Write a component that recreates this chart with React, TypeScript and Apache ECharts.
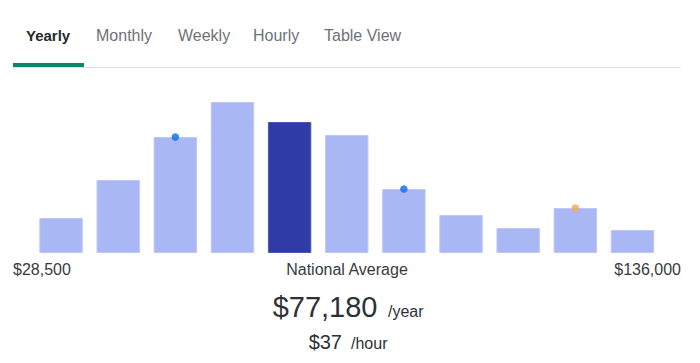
import React, { useEffect, useRef } from "react";
import * as echarts from "echarts";

const bins = ["Bin 1", "Bin 2", "Bin 3", "Bin 4", "Bin 5", "Bin 6", "Bin 7", "Bin 8", "Bin 9", "Bin 10", "Bin 11"];
const counts = [35, 73, 116, 151, 131, 118, 64, 38, 25, 45, 23];
const highlightIndex = 4;
const blueDotBins = [2, 6];
const orangeDotBins = [9];
const tabs = ["Yearly", "Monthly", "Weekly", "Hourly", "Table View"];
const tabX = [26, 96, 178, 253, 324];
const minLabel = "$28,500";
const maxLabel = "$136,000";
const midLabel = "National Average";
const yearlyValue = "$77,180";
const hourlyValue = "$37";

const FONT = '"Liberation Sans", Arial, Helvetica, sans-serif';

export default function App() {
  const ref = useRef<HTMLDivElement>(null);
  useEffect(() => {
    if (!ref.current) return;
    const chart = echarts.init(ref.current, null, { renderer: "svg" });
    const light = "#a9b8f5";
    const dark = "#2f3ca5";
    const barData = counts.map((v, i) => ({
      value: v,
      itemStyle: {
        color: i === highlightIndex ? dark : light,
        borderColor: i === highlightIndex ? "#4f59b5" : "#bdc8f8",
        borderWidth: 1,
      },
    }));
    const blueData = counts.map((v, i) => (blueDotBins.includes(i) ? v : null));
    const orangeData = counts.map((v, i) => (orangeDotBins.includes(i) ? v : null));

    const tabTexts = tabs.map((t, i) => ({
      type: "text",
      x: tabX[i],
      y: 35.5,
      style: {
        text: t,
        fontFamily: FONT,
        fontSize: i === 0 ? 15 : 16,
        fontWeight: i === 0 ? "bold" : "normal",
        fill: i === 0 ? "#26292c" : "#6e7277",
        align: "left",
        verticalAlign: "middle",
      },
    }));

    chart.setOption({
      animation: false,
      grid: { left: 32.5, right: 39, top: 102, bottom: 110 },
      xAxis: {
        type: "category",
        data: bins,
        axisLine: { show: false },
        axisTick: { show: false },
        axisLabel: { show: false },
      },
      yAxis: {
        type: "value",
        min: 0,
        max: 151,
        show: false,
        splitLine: { show: false },
      },
      series: [
        {
          type: "bar",
          data: barData,
          barCategoryGap: "24%",
        },
        {
          type: "scatter",
          data: blueData,
          symbolSize: 7.5,
          itemStyle: { color: "#0a6ce8" },
          z: 5,
        },
        {
          type: "scatter",
          data: orangeData,
          symbolSize: 7.5,
          itemStyle: { color: "#f7a64c" },
          z: 5,
        },
      ],
      graphic: [
        ...tabTexts,
        { type: "rect", shape: { x: 13, y: 67, width: 668, height: 1 }, style: { fill: "#e1e1e1" } },
        { type: "rect", shape: { x: 13, y: 63, width: 71, height: 4 }, style: { fill: "#0b876b" } },
        {
          type: "text", x: 13, y: 269,
          style: { text: minLabel, fontFamily: FONT, fontSize: 16, fill: "#373b40", align: "left", verticalAlign: "middle" },
        },
        {
          type: "text", x: 347, y: 269,
          style: { text: midLabel, fontFamily: FONT, fontSize: 16, fill: "#373b40", align: "center", verticalAlign: "middle" },
        },
        {
          type: "text", x: 681, y: 269,
          style: { text: maxLabel, fontFamily: FONT, fontSize: 16, fill: "#373b40", align: "right", verticalAlign: "middle" },
        },
        {
          type: "text", x: 377.5, y: 306.5,
          style: { text: yearlyValue, fontFamily: FONT, fontSize: 29, fill: "#2c3237", align: "right", verticalAlign: "middle" },
        },
        {
          type: "text", x: 388, y: 311,
          style: { text: "/year", fontFamily: FONT, fontSize: 16, fill: "#2c3237", align: "left", verticalAlign: "middle" },
        },
        {
          type: "text", x: 342, y: 341.5,
          style: { text: hourlyValue, fontFamily: FONT, fontSize: 20, fill: "#2c3237", align: "right", verticalAlign: "middle" },
        },
        {
          type: "text", x: 351, y: 343,
          style: { text: "/hour", fontFamily: FONT, fontSize: 16, fill: "#2c3237", align: "left", verticalAlign: "middle" },
        },
      ],
    });
    return () => chart.dispose();
  }, []);
  return (
    <div
      ref={ref}
      style={{ position: "absolute", left: 0, top: 0, width: 700, height: 363, background: "#fff" }}
    />
  );
}
